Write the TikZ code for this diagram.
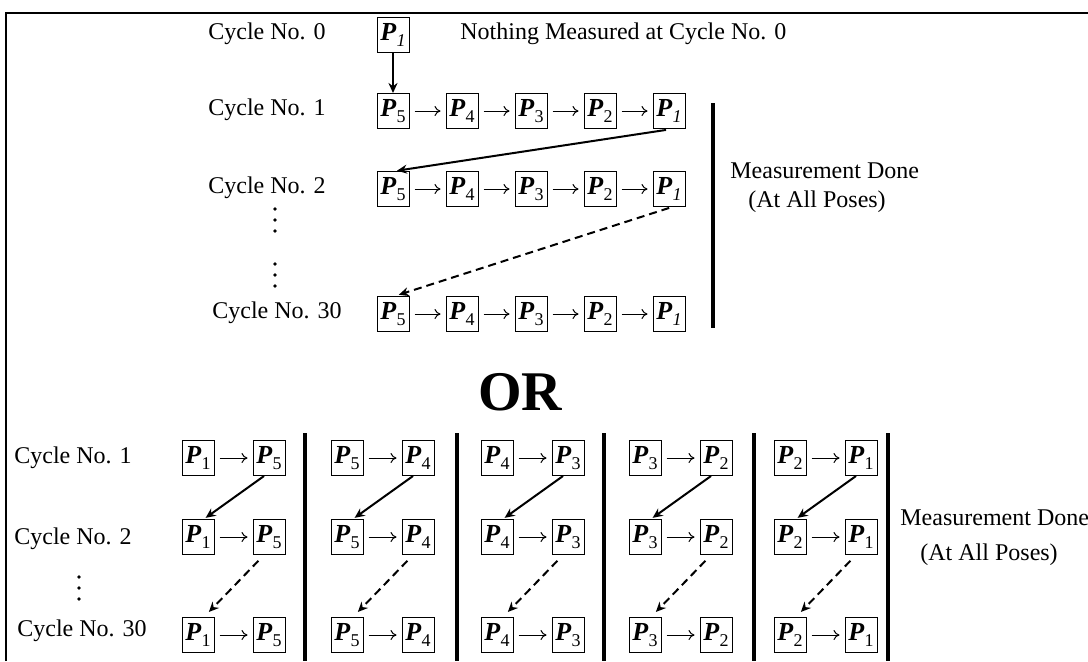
\documentclass[tikz,border=0pt]{standalone}
\usepackage{fontspec}
\setmainfont{Liberation Serif}
\usetikzlibrary{arrows.meta,positioning,chains}
\newcommand{\pose}[1]{\textbf{\textit{P}}\raisebox{-0.45ex}{\fontsize{9}{9}\selectfont #1}}
\tikzset{
  caja/.style={draw,line width=0.5pt,minimum width=16pt,minimum height=17.5pt,inner sep=0pt,font=\fontsize{13}{13}\selectfont},
  flecha/.style={-{To[length=3pt,width=5pt]},line width=0.5pt,shorten <=2.5pt,shorten >=2.5pt},
  diag/.style={-{Stealth[length=5pt,width=4.5pt]},line width=1pt},
  diagd/.style={diag,dash pattern=on 4pt off 2.5pt},
  barra/.style={line width=1.6pt},
  marco/.style={line width=0.6pt},
  etiqueta/.style={font=\fontsize{12}{14}\selectfont,anchor=base},
  texto/.style={font=\fontsize{12}{14}\selectfont,anchor=base west,inner sep=0pt},
}

\begin{document}
\begin{tikzpicture}[x=0.5pt,y=-0.5pt,node distance=18pt]
  \useasboundingbox (0,0) rectangle (1088,661);
  \draw[marco] (6,661) -- (6,13) -- (1088,13);
  % una pose por ciclo
  \node[etiqueta] (c0) at (267,39) {Cycle No. 0};
  \node[etiqueta] (c1) at (267,115) {Cycle No. 1};
  \node[etiqueta] (c2) at (267,193) {Cycle No. 2};
  \node[etiqueta] (c30) at (277,318) {Cycle No. 30};
  \node[caja] (p0) at (393,35) {\pose{\textit{1}}};
  \node[texto] (nada) at (460,39) {Nothing Measured at Cycle No. 0};
  \begin{scope}[start chain=going right,shift={(393,111)}]
    \node[caja,on chain] (a5) {\pose{5}};
    \node[caja,on chain,join=by flecha] (a4) {\pose{4}};
    \node[caja,on chain,join=by flecha] (a3) {\pose{3}};
    \node[caja,on chain,join=by flecha] (a2) {\pose{2}};
    \node[caja,on chain,join=by flecha] (a1) {\pose{\textit{1}}};
  \end{scope}
  \begin{scope}[start chain=going right,shift={(393,189)}]
    \node[caja,on chain] (b5) {\pose{5}};
    \node[caja,on chain,join=by flecha] (b4) {\pose{4}};
    \node[caja,on chain,join=by flecha] (b3) {\pose{3}};
    \node[caja,on chain,join=by flecha] (b2) {\pose{2}};
    \node[caja,on chain,join=by flecha] (b1) {\pose{\textit{1}}};
  \end{scope}
  \begin{scope}[start chain=going right,shift={(393,314)}]
    \node[caja,on chain] (z5) {\pose{5}};
    \node[caja,on chain,join=by flecha] (z4) {\pose{4}};
    \node[caja,on chain,join=by flecha] (z3) {\pose{3}};
    \node[caja,on chain,join=by flecha] (z2) {\pose{2}};
    \node[caja,on chain,join=by flecha] (z1) {\pose{\textit{1}}};
  \end{scope}
  \draw[diag] (p0) -- (a5);
  \draw[diag,shorten <=3pt,shorten >=1pt] ([xshift=1.5pt]a1.south) -- ([xshift=1pt]b5.north);
  \draw[diagd,shorten <=1.5pt,shorten >=2pt] ([xshift=1.5pt]b1.south) -- ([xshift=1pt]z5.north);
  \foreach \y in {209,220,231,264,275,286} \fill (275,\y) circle (0.9pt);
  \draw[barra] (713,103) -- (713,328);
  \node[texto] (hecho) at (730,178) {Measurement Done};
  \node[texto] (todas) at (748,207) {(At All Poses)};
  \node[font=\fontsize{28}{28}\selectfont\bfseries] (o) at (520,392) {OR};
  % dos poses por ciclo
  \node[etiqueta] (d1) at (73,463) {Cycle No. 1};
  \node[etiqueta] (d2) at (73,544) {Cycle No. 2};
  \node[etiqueta] (d30) at (82,636) {Cycle No. 30};
  \foreach \y in {577,588,599} \fill (79,\y) circle (0.9pt);
  \foreach \x/\i/\j [count=\k] in {198/1/5,347/5/4,497/4/3,645/3/2,790/2/1}{
    \foreach \y/\f in {458/a,537/b,635/c}{
      \begin{scope}[start chain=going right,node distance=19pt,shift={(\x,\y)}]
        \node[caja,on chain] (g\k\f1) {\pose{\i}};
        \node[caja,on chain,join=by flecha] (g\k\f2) {\pose{\j}};
      \end{scope}
    }
    \draw[diag,shorten >=1pt] ([xshift=-2.5pt]g\k a2.south) -- ([xshift=3pt]g\k b1.north);
    \draw[diagd,shorten <=4pt,shorten >=3.5pt] ([xshift=-2.5pt]g\k b2.south) -- ([xshift=3pt]g\k c1.north);
  }
  \foreach \x in {305,457,604,754,888} \draw[barra] (\x,433) -- (\x,661);
  \node[texto] (hecho2) at (900,525) {Measurement Done};
  \node[texto] (todas2) at (920,560) {(At All Poses)};
\end{tikzpicture}
\end{document}
